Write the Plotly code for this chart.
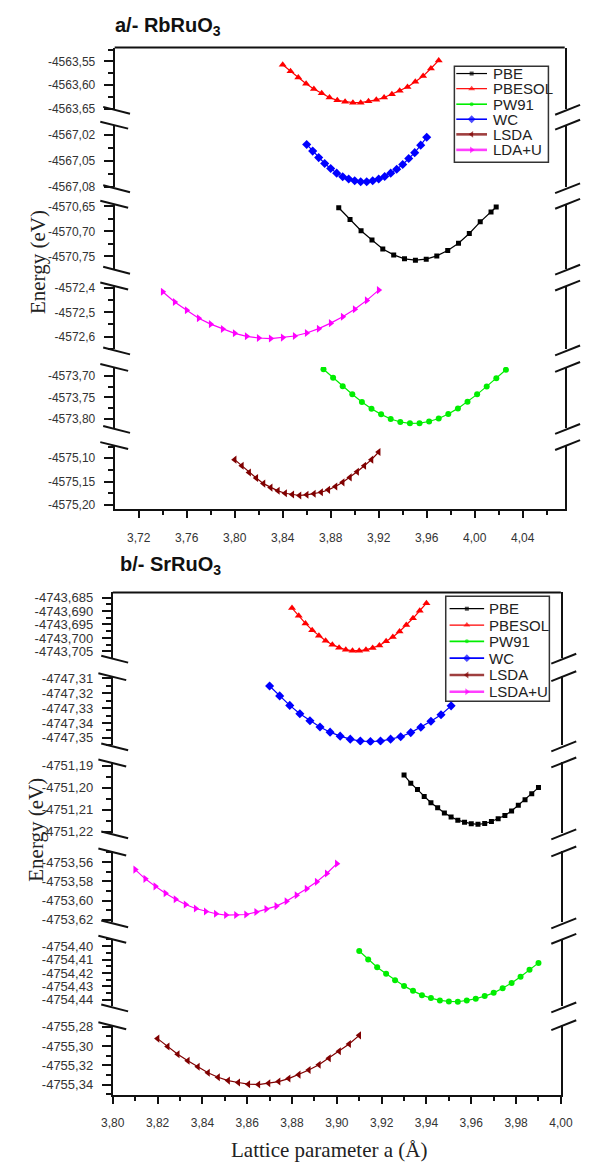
import plotly.graph_objects as go

W, H = 594, 1169

# ---------------- RbRuO3 (panel a) ----------------
methods_a = ["PBE", "PBESOL", "PW91", "WC", "LSDA", "LDA+U"]

rb_pbe_a = [3.8867, 3.8961, 3.9053, 3.9144, 3.9234, 3.9325, 3.9415, 3.9506,
            3.9596, 3.9684, 3.9775, 3.9865, 3.9955, 4.0046, 4.0136, 4.0179]
rb_pbe_e = [-4570.6526, -4570.6763, -4570.6986, -4570.7172, -4570.7350, -4570.7468,
            -4570.7547, -4570.7573, -4570.7553, -4570.7488, -4570.7381, -4570.7237,
            -4570.7040, -4570.6808, -4570.6611, -4570.6512]

rb_pbesol_a = [3.8400, 3.8465, 3.8530, 3.8595, 3.8660, 3.8725, 3.8790, 3.8855, 3.8920,
               3.8985, 3.9050, 3.9115, 3.9180, 3.9245, 3.9310, 3.9375, 3.9440, 3.9505,
               3.9570, 3.9635, 3.9700]
rb_pbesol_e = [-4563.557, -4563.571, -4563.584, -4563.597, -4563.608, -4563.617,
               -4563.626, -4563.632, -4563.635, -4563.637, -4563.637, -4563.634,
               -4563.631, -4563.626, -4563.619, -4563.612, -4563.604, -4563.593,
               -4563.581, -4563.565, -4563.548]

rb_pw91_a = [3.874, 3.882, 3.890, 3.898, 3.906, 3.914, 3.922, 3.930, 3.938, 3.946,
             3.954, 3.962, 3.970, 3.978, 3.986, 3.994, 4.002, 4.010, 4.018, 4.026]
rb_pw91_e = [-4573.6846, -4573.7044, -4573.7239, -4573.7429, -4573.7606, -4573.7761,
             -4573.7894, -4573.8002, -4573.8071, -4573.8101, -4573.8098, -4573.8060,
             -4573.7990, -4573.7886, -4573.7755, -4573.7603, -4573.7430, -4573.7245,
             -4573.7055, -4573.6860]

rb_wc_a = [3.860, 3.865, 3.870, 3.875, 3.880, 3.885, 3.890, 3.895, 3.900, 3.905, 3.910,
           3.915, 3.920, 3.925, 3.930, 3.935, 3.940, 3.945, 3.950, 3.955, 3.960]
rb_wc_e = [-4567.0306, -4567.0383, -4567.0458, -4567.0526, -4567.0583, -4567.0637,
           -4567.0679, -4567.0705, -4567.0725, -4567.0736, -4567.0736, -4567.0725,
           -4567.0705, -4567.0675, -4567.0637, -4567.0592, -4567.0538, -4567.0469,
           -4567.0401, -4567.0314, -4567.0223]

rb_lsda_a = [3.800, 3.806, 3.812, 3.818, 3.824, 3.830, 3.836, 3.842, 3.848, 3.854, 3.860,
             3.866, 3.872, 3.878, 3.884, 3.890, 3.896, 3.902, 3.908, 3.914, 3.920]
rb_lsda_e = [-4575.1030, -4575.1162, -4575.1304, -4575.1422, -4575.1542, -4575.1627,
             -4575.1696, -4575.1747, -4575.1774, -4575.1795, -4575.1781, -4575.1759,
             -4575.1726, -4575.1675, -4575.1605, -4575.1515, -4575.1409, -4575.1289,
             -4575.1162, -4575.1030, -4575.0867]

rb_ldau_a = [3.74, 3.75, 3.76, 3.77, 3.78, 3.79, 3.80, 3.81, 3.82, 3.83, 3.84, 3.85,
             3.86, 3.87, 3.88, 3.89, 3.90, 3.91, 3.92]
rb_ldau_e = [-4572.4151, -4572.4571, -4572.4914, -4572.5241, -4572.5486, -4572.5690,
             -4572.5865, -4572.5988, -4572.6057, -4572.6082, -4572.6041, -4572.5976,
             -4572.5853, -4572.5673, -4572.5445, -4572.5184, -4572.4873, -4572.4506,
             -4572.4082]

# ---------------- SrRuO3 (panel b) ----------------
methods_b = ["PBE", "PBESOL", "PW91", "WC", "LSDA", "LSDA+U"]

sr_pbe_a = [3.930, 3.933, 3.936, 3.939, 3.942, 3.945, 3.948, 3.951, 3.954, 3.957, 3.960,
            3.963, 3.966, 3.969, 3.972, 3.975, 3.978, 3.981, 3.984, 3.987, 3.990]
sr_pbe_e = [-4751.1942, -4751.1979, -4751.2008, -4751.2039, -4751.2068, -4751.2091,
            -4751.2114, -4751.2132, -4751.2147, -4751.2156, -4751.2163, -4751.2166,
            -4751.2162, -4751.2153, -4751.2141, -4751.2126, -4751.2105, -4751.2079,
            -4751.2054, -4751.2027, -4751.1999]

sr_pbesol_a = [3.880, 3.883, 3.886, 3.889, 3.892, 3.895, 3.898, 3.901, 3.904, 3.907, 3.910,
               3.913, 3.916, 3.919, 3.922, 3.925, 3.928, 3.931, 3.934, 3.937, 3.940]
sr_pbesol_e = [-4743.6889, -4743.6918, -4743.6946, -4743.6971, -4743.6992, -4743.7010,
               -4743.7025, -4743.7036, -4743.7044, -4743.7047, -4743.7047, -4743.7044,
               -4743.7037, -4743.7028, -4743.7012, -4743.6996, -4743.6976, -4743.6952,
               -4743.6927, -4743.6899, -4743.6871]

sr_pw91_a = [3.910, 3.914, 3.918, 3.922, 3.926, 3.930, 3.934, 3.938, 3.942, 3.946, 3.950,
             3.954, 3.958, 3.962, 3.966, 3.970, 3.974, 3.978, 3.982, 3.986, 3.990]
sr_pw91_e = [-4754.4037, -4754.4100, -4754.4157, -4754.4206, -4754.4254, -4754.4296,
             -4754.4333, -4754.4365, -4754.4387, -4754.4404, -4754.4412, -4754.4414,
             -4754.4404, -4754.4392, -4754.4372, -4754.4348, -4754.4313, -4754.4274,
             -4754.4228, -4754.4176, -4754.4125]

sr_wc_a = [3.8700, 3.8745, 3.8790, 3.8835, 3.8880, 3.8925, 3.8970, 3.9015, 3.9060, 3.9105,
           3.9150, 3.9195, 3.9240, 3.9285, 3.9330, 3.9375, 3.9420, 3.9465, 3.9510]
sr_wc_e = [-4747.3151, -4747.3218, -4747.3282, -4747.3338, -4747.3385, -4747.3427,
           -4747.3462, -4747.3489, -4747.3509, -4747.3522, -4747.3525, -4747.3522,
           -4747.3509, -4747.3493, -4747.3465, -4747.3429, -4747.3389, -4747.3345,
           -4747.3285]

sr_lsda_a = [3.8200, 3.8245, 3.8290, 3.8335, 3.8380, 3.8425, 3.8470, 3.8515, 3.8560,
             3.8605, 3.8650, 3.8695, 3.8740, 3.8785, 3.8830, 3.8875, 3.8920, 3.8965,
             3.9010, 3.9055, 3.9100]
sr_lsda_e = [-4755.2923, -4755.3005, -4755.3085, -4755.3153, -4755.3215, -4755.3277,
             -4755.3324, -4755.3359, -4755.3379, -4755.3396, -4755.3400, -4755.3386,
             -4755.3369, -4755.3338, -4755.3297, -4755.3249, -4755.3195, -4755.3126,
             -4755.3054, -4755.2979, -4755.2889]

sr_lsdau_a = [3.8100, 3.8145, 3.8190, 3.8235, 3.8280, 3.8325, 3.8370, 3.8415, 3.8460,
              3.8505, 3.8550, 3.8595, 3.8640, 3.8685, 3.8730, 3.8775, 3.8820, 3.8865,
              3.8910, 3.8955, 3.9000]
sr_lsdau_e = [-4753.5678, -4753.5774, -4753.5852, -4753.5924, -4753.5986, -4753.6041,
              -4753.6082, -4753.6113, -4753.6136, -4753.6150, -4753.6150, -4753.6144,
              -4753.6119, -4753.6088, -4753.6057, -4753.6006, -4753.5945, -4753.5877,
              -4753.5805, -4753.5719, -4753.5616]

# y-axis tick values (major) per broken-axis segment, top to bottom
ticks_a = [[-4563.55, -4563.60, -4563.65],
           [-4567.02, -4567.05, -4567.08],
           [-4570.65, -4570.70, -4570.75],
           [-4572.4, -4572.5, -4572.6],
           [-4573.70, -4573.75, -4573.80],
           [-4575.10, -4575.15, -4575.20]]
ticks_b = [[-4743.685, -4743.690, -4743.695, -4743.700, -4743.705],
           [-4747.31, -4747.32, -4747.33, -4747.34, -4747.35],
           [-4751.19, -4751.20, -4751.21, -4751.22],
           [-4753.56, -4753.58, -4753.60, -4753.62],
           [-4754.40, -4754.41, -4754.42, -4754.43, -4754.44],
           [-4755.28, -4755.30, -4755.32, -4755.34]]
decimals_a = [2, 2, 2, 1, 2, 2]
decimals_b = [3, 2, 2, 2, 2, 2]

ranges_a = [[-4563.650, -4563.5208], [-4567.080, -4567.0078], [-4570.7745, -4570.6447],
            [-4572.653, -4572.3894], [-4573.8209, -4573.6794], [-4575.2091, -4575.0719]]
ranges_b = [[-4743.7073, -4743.6831], [-4747.3551, -4747.3085], [-4751.2207, -4751.1885],
            [-4753.6226, -4753.549], [-4754.4449, -4754.3946], [-4755.3506, -4755.2784]]

xticks_a = [3.72, 3.76, 3.80, 3.84, 3.88, 3.92, 3.96, 4.00, 4.04]
xminor_a = [3.74, 3.78, 3.82, 3.86, 3.90, 3.94, 3.98, 4.02, 4.06]
xticks_b = [3.80, 3.82, 3.84, 3.86, 3.88, 3.90, 3.92, 3.94, 3.96, 3.98, 4.00]
xminor_b = [3.81, 3.83, 3.85, 3.87, 3.89, 3.91, 3.93, 3.95, 3.97, 3.99]

# ---------------- styling / geometry ----------------
style = {
    "PBE":    dict(color="#000000", symbol="square", size=5, key=4, kw=1.2),
    "PBESOL": dict(color="#FF0000", symbol="triangle-up", size=7, key=6, kw=1.2),
    "PW91":   dict(color="#00EE00", symbol="circle", size=6, key=4, kw=1.6),
    "WC":     dict(color="#0000FF", symbol="diamond", size=7, key=6, kw=1.6),
    "LSDA":   dict(color="#800000", symbol="triangle-left", size=7, key=6, kw=2.6),
    "LDA+U":  dict(color="#FF00FF", symbol="triangle-right", size=7, key=6, kw=2.6),
    "LSDA+U": dict(color="#FF00FF", symbol="triangle-right", size=7, key=6, kw=2.6),
}
# segment (1 = top) holding each curve
segment_of = {"PBESOL": 1, "WC": 2, "PBE": 3, "LDA+U": 4, "LSDA+U": 4, "PW91": 5, "LSDA": 6}

data_a = {"PBE": (rb_pbe_a, rb_pbe_e), "PBESOL": (rb_pbesol_a, rb_pbesol_e),
          "PW91": (rb_pw91_a, rb_pw91_e), "WC": (rb_wc_a, rb_wc_e),
          "LSDA": (rb_lsda_a, rb_lsda_e), "LDA+U": (rb_ldau_a, rb_ldau_e)}
data_b = {"PBE": (sr_pbe_a, sr_pbe_e), "PBESOL": (sr_pbesol_a, sr_pbesol_e),
          "PW91": (sr_pw91_a, sr_pw91_e), "WC": (sr_wc_a, sr_wc_e),
          "LSDA": (sr_lsda_a, sr_lsda_e), "LSDA+U": (sr_lsdau_a, sr_lsdau_e)}

# pixel geometry of each panel: left/right edges and vertical bands of the segments
panel_a = dict(xl=107, xr=576,
               bands=[(42, 104), (120, 183.3), (200, 265.7), (282.7, 347.3), (365, 426.7), (444, 509)],
               legend_box=(461, 61, 559, 158), legend_rows=[68.3, 83.6, 99.3, 114.5, 129.8, 145.5],
               key_x=(463, 495), text_x=499, legend_font=15)
panel_b = dict(xl=105, xr=572,
               bands=[(593, 659), (677.7, 747.7), (765, 836.7), (855, 926.7), (943.3, 1011.7), (1030.7, 1101)],
               legend_box=(452, 597, 560, 703), legend_rows=[609.5, 626, 642.5, 659.5, 676.5, 693.5],
               key_x=(456, 492), text_x=495, legend_font=15)


def px(x):
    return x / W


def py(y):
    return 1 - y / H


def yname(i):
    return "y" if i == 1 else f"y{i}"


def fmt(v, d):
    return f"{v:.{d}f}".replace(".", ",")


fig = go.Figure()

for methods, data, offset, xref in [(methods_a, data_a, 0, "x"), (methods_b, data_b, 6, "x2")]:
    for m in methods:
        st = style[m]
        xs, ys = data[m]
        fig.add_trace(go.Scatter(
            x=xs, y=ys, name=m, mode="lines+markers", showlegend=False,
            xaxis=xref, yaxis=yname(offset + segment_of[m]),
            line=dict(color=st["color"], width=1.2),
            marker=dict(symbol=st["symbol"], size=st["size"], color=st["color"],
                        line=dict(width=0)),
        ))

layout = {}
shapes = []
annotations = []
line_col = "#111111"

for panel, ticks, decs, ranges, offset, xname, fsize, methods in [
        (panel_a, ticks_a, decimals_a, ranges_a, 0, "x", 12, methods_a),
        (panel_b, ticks_b, decimals_b, ranges_b, 6, "x2", 13, methods_b)]:
    xl, xr, bands = panel["xl"], panel["xr"], panel["bands"]
    for k, (top, bot) in enumerate(bands):
        tv = ticks[k]
        step = abs(tv[1] - tv[0])
        minor_vals = [v - step / 2 for v in tv] + [tv[0] + step / 2]
        key = "yaxis" if offset + k == 0 else f"yaxis{offset + k + 1}"
        layout[key] = dict(
            domain=[py(bot), py(top)], range=ranges[k], anchor=xname,
            showline=True, linecolor=line_col, linewidth=2, mirror=True,
            ticks="outside", ticklen=9, tickwidth=1.6, tickcolor=line_col,
            tickmode="array", tickvals=tv, ticktext=[fmt(v, decs[k]) for v in tv],
            minor=dict(tickmode="array", tickvals=minor_vals, ticks="outside",
                       ticklen=5, tickwidth=1.6, tickcolor=line_col, showgrid=False),
            showgrid=False, zeroline=False, ticklabelstandoff=6,
            tickfont=dict(family="Arial", size=fsize, color="#333333"),
        )
        # break marks between consecutive segments
        if k < len(bands) - 1:
            yb = bot
            yt = bands[k + 1][0]
            for (x0, y0, x1, y1) in [
                    (xl - 12, yb - 2, xl + 16, yb + 5),
                    (xl - 15, yt - 3, xl + 14, yt + 4),
                    (xr - 10, yb + 6, xr + 16, yb - 4),
                    (xr - 10, yt + 5, xr + 16, yt - 5)]:
                shapes.append(dict(type="line", xref="paper", yref="paper",
                                   x0=px(x0), y0=py(y0), x1=px(x1), y1=py(y1),
                                   line=dict(color=line_col, width=2)))
    # top border of the frame
    shapes.append(dict(type="line", xref="paper", yref="paper",
                       x0=px(xl), y0=py(bands[0][0]), x1=px(xr), y1=py(bands[0][0]),
                       line=dict(color=line_col, width=2)))

    # legend: framed box with a line sample, a symbol and the method name per row
    bx0, by0, bx1, by1 = panel["legend_box"]
    shapes.append(dict(type="rect", xref="paper", yref="paper", layer="below",
                       x0=px(bx0), y0=py(by0), x1=px(bx1), y1=py(by1),
                       line=dict(color="#333333", width=1.5), fillcolor="white"))
    kx0, kx1 = panel["key_x"]
    key_xs, key_ys, key_syms, key_cols, key_sizes = [], [], [], [], []
    for m, ry in zip(methods, panel["legend_rows"]):
        st = style[m]
        shapes.append(dict(type="line", xref="paper", yref="paper", layer="below",
                           x0=px(kx0), y0=py(ry), x1=px(kx1), y1=py(ry),
                           line=dict(color=st["color"], width=st["kw"]),
                           opacity=0.75 if st["kw"] > 2 else 1))
        annotations.append(dict(text=m, x=px(panel["text_x"]), y=py(ry), xanchor="left",
                                yanchor="middle",
                                font=dict(family="Arial", size=panel["legend_font"],
                                          color="#222222")))
        key_xs.append((kx0 + kx1) / 2)
        key_ys.append(ry)
        key_syms.append(st["symbol"])
        key_cols.append(st["color"])
        key_sizes.append(st["key"])
    fig.add_trace(go.Scatter(
        x=key_xs, y=key_ys, mode="markers", showlegend=False, hoverinfo="skip",
        xaxis="x3", yaxis="y13",
        marker=dict(symbol=key_syms, color=key_cols, size=key_sizes, line=dict(width=0)),
    ))

layout["xaxis"] = dict(
    domain=[px(panel_a["xl"]), px(panel_a["xr"])], range=[3.70, 4.075], anchor="y6",
    showline=True, linecolor=line_col, linewidth=2, ticks="outside", ticklen=7,
    tickwidth=1.6, tickcolor=line_col, tickmode="array", tickvals=xticks_a,
    ticktext=[fmt(v, 2) for v in xticks_a],
    minor=dict(tickmode="array", tickvals=xminor_a, ticks="outside", ticklen=4,
               tickwidth=1.6, tickcolor=line_col, showgrid=False),
    showgrid=False, zeroline=False, ticklabelstandoff=9,
    tickfont=dict(family="Arial", size=12, color="#333333"),
)
layout["xaxis2"] = dict(
    domain=[px(panel_b["xl"]), px(panel_b["xr"])], range=[3.80, 4.00], anchor="y12",
    showline=True, linecolor=line_col, linewidth=2, ticks="outside", ticklen=7,
    tickwidth=1.6, tickcolor=line_col, tickmode="array", tickvals=xticks_b,
    ticktext=[fmt(v, 2) for v in xticks_b],
    minor=dict(tickmode="array", tickvals=xminor_b, ticks="outside", ticklen=4,
               tickwidth=1.6, tickcolor=line_col, showgrid=False),
    showgrid=False, zeroline=False, ticklabelstandoff=9,
    tickfont=dict(family="Arial", size=12, color="#333333"),
)
# full-page pixel frame used only to place the legend symbols
layout["xaxis3"] = dict(domain=[0, 1], range=[0, W], visible=False, anchor="y13",
                        fixedrange=True)
layout["yaxis13"] = dict(domain=[0, 1], range=[H, 0], visible=False, anchor="x3",
                         fixedrange=True)

serif = "Times New Roman, Liberation Serif, serif"
annotations += [
    dict(text="<b>a/- RbRuO<sub>3</sub></b>", x=px(105), y=py(21), xanchor="left",
         yanchor="middle", font=dict(family="Arial", size=20, color="#111111")),
    dict(text="<b>b/- SrRuO<sub>3</sub></b>", x=px(110), y=py(566), xanchor="left",
         yanchor="middle", font=dict(family="Arial", size=20, color="#111111")),
    dict(text="Energy (eV)", x=px(27), y=py(259), textangle=-90, xanchor="center",
         yanchor="middle", font=dict(family=serif, size=21, color="#222222")),
    dict(text="Energy (eV)", x=px(25), y=py(833), textangle=-90, xanchor="center",
         yanchor="middle", font=dict(family=serif, size=21, color="#222222")),
    dict(text="Lattice parameter a (Å)", x=px(330), y=py(1157), xanchor="center",
         yanchor="middle", font=dict(family=serif, size=21, color="#222222")),
]
for a in annotations:
    a.update(xref="paper", yref="paper", showarrow=False)

fig.update_layout(
    width=W, height=H, margin=dict(l=0, r=0, t=0, b=0),
    paper_bgcolor="white", plot_bgcolor="rgba(0,0,0,0)",
    shapes=shapes, annotations=annotations, showlegend=False, **layout,
)

fig.write_html("out.html")
